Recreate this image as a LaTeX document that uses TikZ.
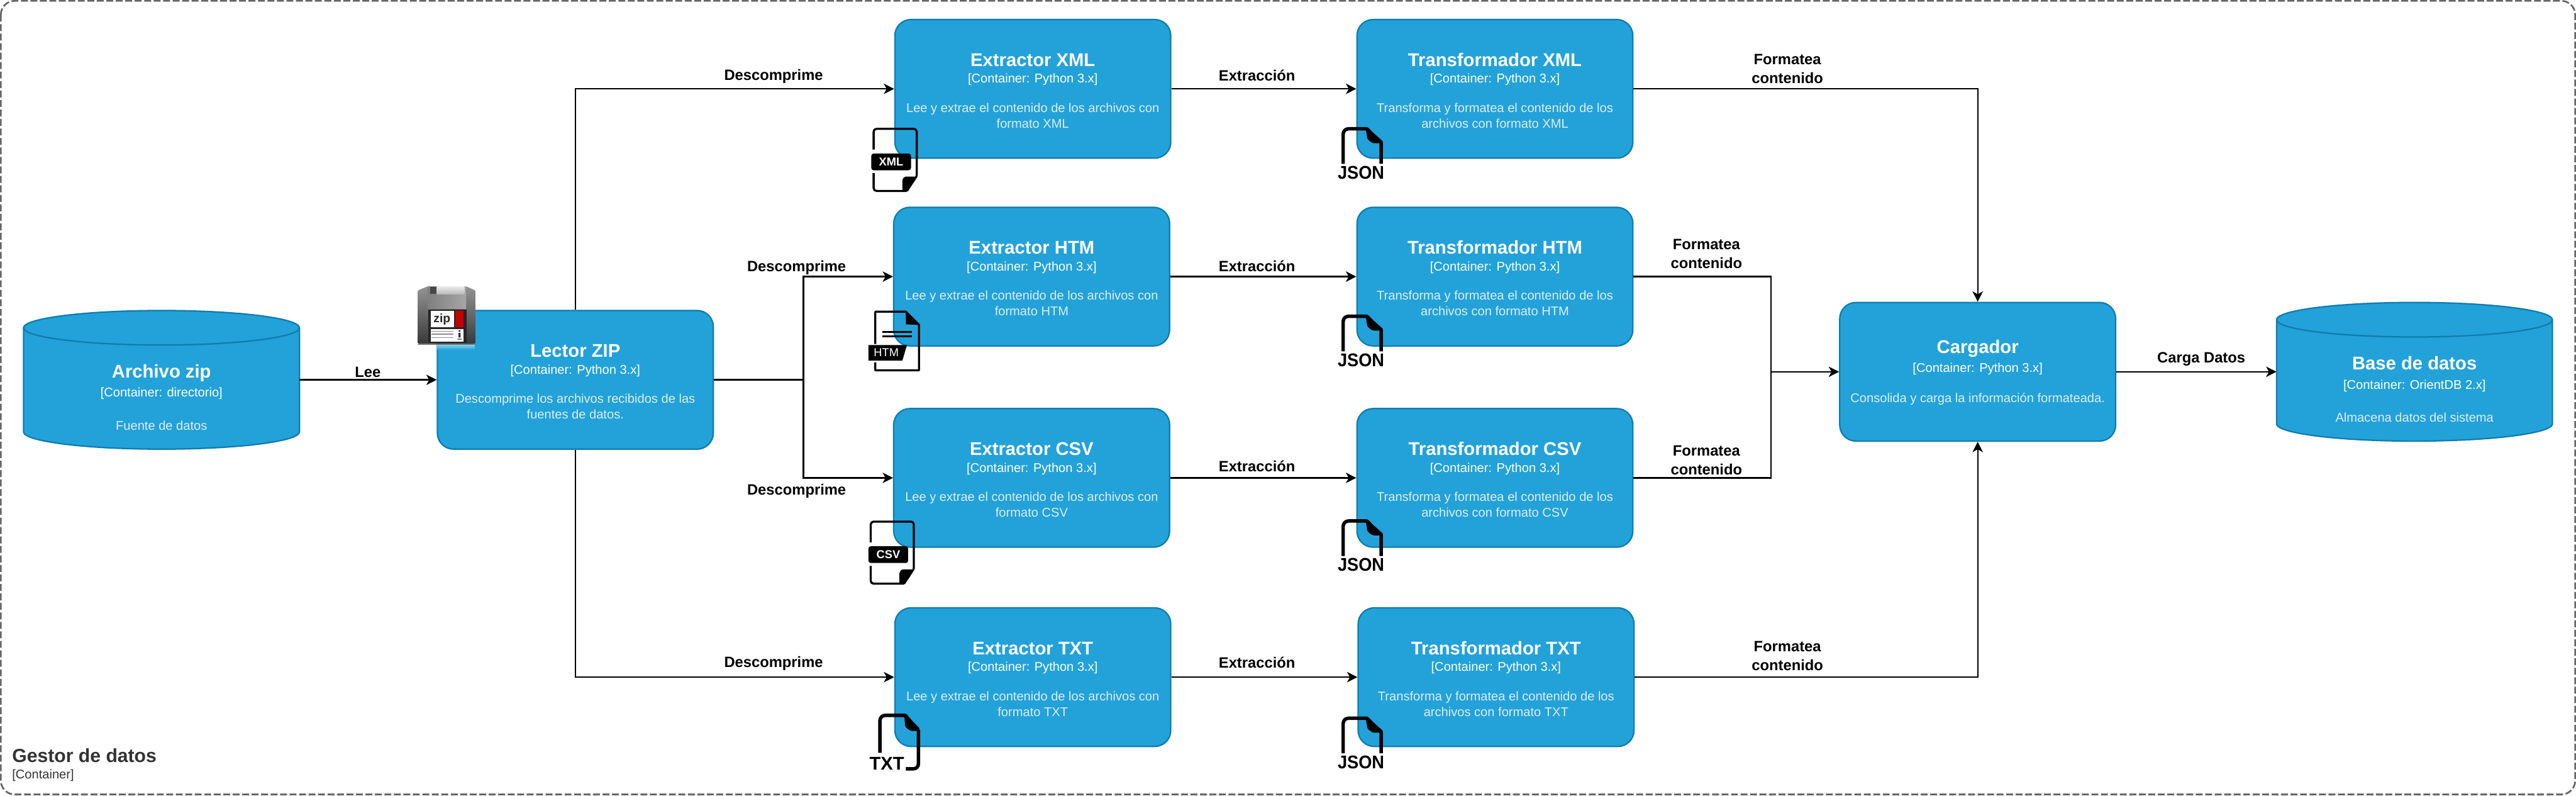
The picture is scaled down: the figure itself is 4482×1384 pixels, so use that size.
\documentclass[tikz,border=0pt]{standalone}
\usepackage{fontspec}
\setmainfont{Liberation Sans}
\usetikzlibrary{arrows.meta}
\definecolor{ctfill}{HTML}{23A2D9}
\definecolor{ctline}{HTML}{0E7DAD}
\definecolor{ctdesc}{HTML}{DCEEF8}
\definecolor{frameline}{HTML}{666666}
\definecolor{frametext}{HTML}{333333}
\tikzset{
  ctbox/.style={draw=ctline,fill=ctfill,line width=2.5pt,rounded corners=28pt,minimum width=480pt,minimum height=241pt,inner sep=0pt,align=center,text=white,font=\fontsize{22}{27}\selectfont},
  cyltext/.style={minimum width=480pt,minimum height=241pt,inner sep=0pt,align=center,text=white,font=\fontsize{22}{27}\selectfont},
  cylbody/.style={draw=ctline,fill=ctfill,line width=2.5pt},
  flow/.style={draw=black,line width=2.6pt,-{Stealth[length=18pt,width=18pt,inset=5pt]}},
  flowplain/.style={draw=black,line width=2.6pt},
  edgelabel/.style={inner sep=0pt,align=center,text=black,font=\fontsize{26}{33}\selectfont\bfseries},
  iconline/.style={draw=black,line width=3.6pt,line join=round},
  jsonline/.style={draw=black,line width=6pt,line join=round},
  icontext/.style={inner sep=0pt,text=white,font=\fontsize{20}{22}\selectfont\bfseries},
  bigicontext/.style={inner sep=0pt,text=black,font=\fontsize{32}{34}\selectfont\bfseries},
}
\newcommand{\ctname}[1]{{\fontsize{32}{32}\selectfont\bfseries #1}}
\newcommand{\ctdesc}[1]{\textcolor{ctdesc}{#1}}
% name, cx, cy, title, sub, desc lines (already coloured)
\newcommand{\ctnode}[6]{\node[ctbox] (#1) at (#2,#3) {\rule{0pt}{29pt}\ctname{#4}\\[2pt]#5\\[24pt]#6};}
% name, left, top, strut, title, sub, desc
\newcommand{\cylnode}[7]{%
  \path[cylbody] (#2,#3+30) -- (#2,#3+211) arc[start angle=180,end angle=360,x radius=240pt,y radius=30pt] -- (#2+480,#3+30) arc[start angle=0,end angle=180,x radius=240pt,y radius=30pt] -- cycle;
  \path[cylbody,fill=none] (#2,#3+30) arc[start angle=180,end angle=360,x radius=240pt,y radius=30pt];
  \node[cyltext] (#1) at (#2+240,#3+120.5) {\rule{0pt}{#4}\ctname{#5}\\[6pt]#6\\[30pt]#7};}
% file icon with the fold at the bottom right and a label across it
\newcommand{\labelfile}[4]{%
  \begin{scope}[shift={(#1,#2)}]
    \draw[iconline,rounded corners=5pt] (0,36) -- (0,0) -- (75,0) -- (75,82);
    \draw[iconline] (75,82) -- (58,108);
    \draw[iconline,rounded corners=5pt] (58,108) -- (0,108) -- (0,77);
    \fill[black,rounded corners=2pt] (75,83) -- (54,83) -- (50,88) -- (50,108) -- (57,108) -- cycle;
    \fill[black,rounded corners=4pt] (-4,43) rectangle (65,72);
    \node[icontext] (#3) at (30.5,57.5) {#4};
  \end{scope}}
% JSON icon: open page with the fold at the top right
\newcommand{\jsonfile}[3]{%
  \begin{scope}[shift={(#1,#2)}]
    \draw[jsonline,rounded corners=9pt] (3,64) -- (3,3) -- (43,3);
    \draw[jsonline] (43,3) -- (69,26) -- (69,64);
    \fill[black,rounded corners=3pt] (42,0) -- (46,0) -- (72,28) -- (54,28) -- (45,21) -- cycle;
    \node[bigicontext,xscale=0.93] (#3) at (34,79.5) {JSON};
  \end{scope}}
\begin{document}
\begin{tikzpicture}[x=1pt,y=-1pt]
\useasboundingbox (0,0) rectangle (4482,1384);
\fill[white] (0,0) rectangle (4482,1384);
% frame
\draw[draw=frameline,line width=3pt,dash pattern=on 12pt off 4.5pt,rounded corners=24pt] (1.5,1.5) rectangle (4480.5,1381.5);
\node[anchor=base west,inner sep=0pt,text=frametext,font=\fontsize{33}{36}\selectfont\bfseries] (frametitle) at (21,1326) {Gestor de datos};
\node[anchor=base west,inner sep=0pt,text=frametext,font=\fontsize{22}{24}\selectfont] (framesub) at (21,1354) {[Container]};
% stores
\cylnode{zipstore}{41}{540}{84pt}{Archivo zip}{[Container: directorio]}{\ctdesc{Fuente de datos}}
\cylnode{basestore}{3961}{526}{84pt}{Base de datos}{[Container: OrientDB 2.x]}{\ctdesc{Almacena datos del sistema}}
% containers
\ctnode{lector}{1001}{660.5}{Lector ZIP}{[Container: Python 3.x]}{\ctdesc{Descomprime los archivos recibidos de las}\\\ctdesc{fuentes de datos.}}
\ctnode{exml}{1797}{154.5}{Extractor XML}{[Container: Python 3.x]}{\ctdesc{Lee y extrae el contenido de los archivos con}\\\ctdesc{formato XML}}
\ctnode{ehtm}{1795}{481}{Extractor HTM}{[Container: Python 3.x]}{\ctdesc{Lee y extrae el contenido de los archivos con}\\\ctdesc{formato HTM}}
\ctnode{ecsv}{1795}{831}{Extractor CSV}{[Container: Python 3.x]}{\ctdesc{Lee y extrae el contenido de los archivos con}\\\ctdesc{formato CSV}}
\ctnode{etxt}{1797}{1177.5}{Extractor TXT}{[Container: Python 3.x]}{\ctdesc{Lee y extrae el contenido de los archivos con}\\\ctdesc{formato TXT}}
\ctnode{txml}{2601}{154.5}{Transformador XML}{[Container: Python 3.x]}{\ctdesc{Transforma y formatea el contenido de los}\\\ctdesc{archivos con formato XML}}
\ctnode{thtm}{2601}{481}{Transformador HTM}{[Container: Python 3.x]}{\ctdesc{Transforma y formatea el contenido de los}\\\ctdesc{archivos con formato HTM}}
\ctnode{tcsv}{2601}{831}{Transformador CSV}{[Container: Python 3.x]}{\ctdesc{Transforma y formatea el contenido de los}\\\ctdesc{archivos con formato CSV}}
\ctnode{ttxt}{2603}{1177.5}{Transformador TXT}{[Container: Python 3.x]}{\ctdesc{Transforma y formatea el contenido de los}\\\ctdesc{archivos con formato TXT}}
\node[ctbox] (carga) at (3441,646.5) {\rule{0pt}{26pt}\ctname{Cargador}\\[5pt][Container: Python 3.x]\\[26pt]\ctdesc{Consolida y carga la información formateada.}};
% connectors
\coordinate (lectorfork) at (1398,660.5);
\coordinate (joinmid) at (3081,646.5);
\draw[flow] (zipstore.east) -- (lector.west);
\draw[flow] (lector.north) |- (exml.west);
\draw[flow] (lector.south) |- (etxt.west);
\draw[flowplain] (lector.east) -- (lectorfork);
\draw[flow] (lectorfork) |- (ehtm.west);
\draw[flow] (lectorfork) |- (ecsv.west);
\draw[flow] (exml.east) -- (txml.west);
\draw[flow] (ehtm.east) -- (thtm.west);
\draw[flow] (ecsv.east) -- (tcsv.west);
\draw[flow] (etxt.east) -- (ttxt.west);
\draw[flow] (txml.east) -| (carga.north);
\draw[flow] (ttxt.east) -| (carga.south);
\draw[flowplain] (thtm.east) -| (joinmid);
\draw[flowplain] (tcsv.east) -| (joinmid);
\draw[flow] (joinmid) -- (carga.west);
\draw[flow] (carga.east) -- (basestore.west);
% connector labels
\node[edgelabel] (llee) at (640,647) {Lee};
\node[edgelabel] (ld1) at (1346,133) {Descomprime};
\node[edgelabel] (ld2) at (1386,465) {Descomprime};
\node[edgelabel] (ld3) at (1386,854) {Descomprime};
\node[edgelabel] (ld4) at (1346,1154) {Descomprime};
\node[edgelabel] (le1) at (2187,131) {Extracción};
\node[edgelabel] (le2) at (2187,463) {Extracción};
\node[edgelabel] (le3) at (2187,811) {Extracción};
\node[edgelabel] (le4) at (2187,1152) {Extracción};
\node[edgelabel] (lf1) at (3110,120) {Formatea\\contenido};
\node[edgelabel] (lf2) at (2969,441) {Formatea\\contenido};
\node[edgelabel] (lf3) at (2969,800) {Formatea\\contenido};
\node[edgelabel] (lf4) at (3110,1141) {Formatea\\contenido};
\node[edgelabel] (lcd) at (3830,624) {Carga Datos};
% file icons
\labelfile{1520}{224}{ixml}{XML}
\labelfile{1515}{907}{icsv}{CSV}
% HTM icon
\begin{scope}[shift={(1523,542)}]
  \draw[iconline] (0,56) -- (0,0) -- (53,0) -- (76,23) -- (76,102) -- (0,102) -- (0,88);
  \fill[black] (53,0) -- (53,22) -- (76,23) -- cycle;
  \draw[draw=black,line width=3.4pt] (12,35) -- (64,35) (12,43) -- (64,43);
  \fill[black] (-12,58) -- (55,58) -- (47,85) -- (-12,85) -- cycle;
  \node[icontext,font=\fontsize{20}{22}\selectfont] (ihtm) at (19,71.5) {HTM};
\end{scope}
% TXT icon
\begin{scope}[shift={(1528,1241)}]
  \draw[jsonline,rounded corners=9pt] (3,68) -- (3,3) -- (46,3);
  \draw[jsonline] (46,3) -- (70,28) ;
  \draw[jsonline,rounded corners=9pt] (70,28) -- (70,96) -- (48,96);
  \fill[black,rounded corners=3pt] (45,0) -- (49,0) -- (73,30) -- (56,30) -- (47,23) -- cycle;
  \node[bigicontext] (itxt) at (15,87) {TXT};
\end{scope}
\jsonfile{2334}{221}{ij1}
\jsonfile{2334}{547}{ij2}
\jsonfile{2334}{903}{ij3}
\jsonfile{2334}{1246}{ij4}
% zip disk icon
\begin{scope}[shift={(727,498)}]
  \shade[top color=ctfill!45!white,bottom color=ctfill] (34,100) rectangle (99,110);
  \fill[black!55] (0,100) rectangle (100,102);
  \shade[top color=black!42,bottom color=black!78,rounded corners=1.5pt] (0,7) -- (17,0) -- (84,0) -- (100,7) -- (100,100) -- (0,100) -- cycle;
  \shade[left color=black!50,right color=black!35] (17,0) rectangle (84,39);
  \shade[top color=black!8,bottom color=black!28] (33,0) rectangle (81,14);
  \fill[black!72] (21,1) rectangle (32,13);
  \fill[black!85] (18,40) rectangle (85,98);
  \fill[white] (22,43) rectangle (63,71);
  \fill[red!78!black] (65,43) rectangle (79,71);
  \fill[white] (22,74) rectangle (79,96);
  \draw[draw=black!45,line width=1.6pt] (24,78) -- (62,78) (24,83) -- (62,83) (24,89) -- (62,89);
  \fill[black!80] (71,76) rectangle (74,79) (70.5,81) rectangle (74.5,89) (69,91) rectangle (76,92.5);
  \node[inner sep=0pt,text=black!85,font=\fontsize{21}{22}\selectfont\bfseries] (izip) at (42,57) {zip};
\end{scope}
\end{tikzpicture}
\end{document}
